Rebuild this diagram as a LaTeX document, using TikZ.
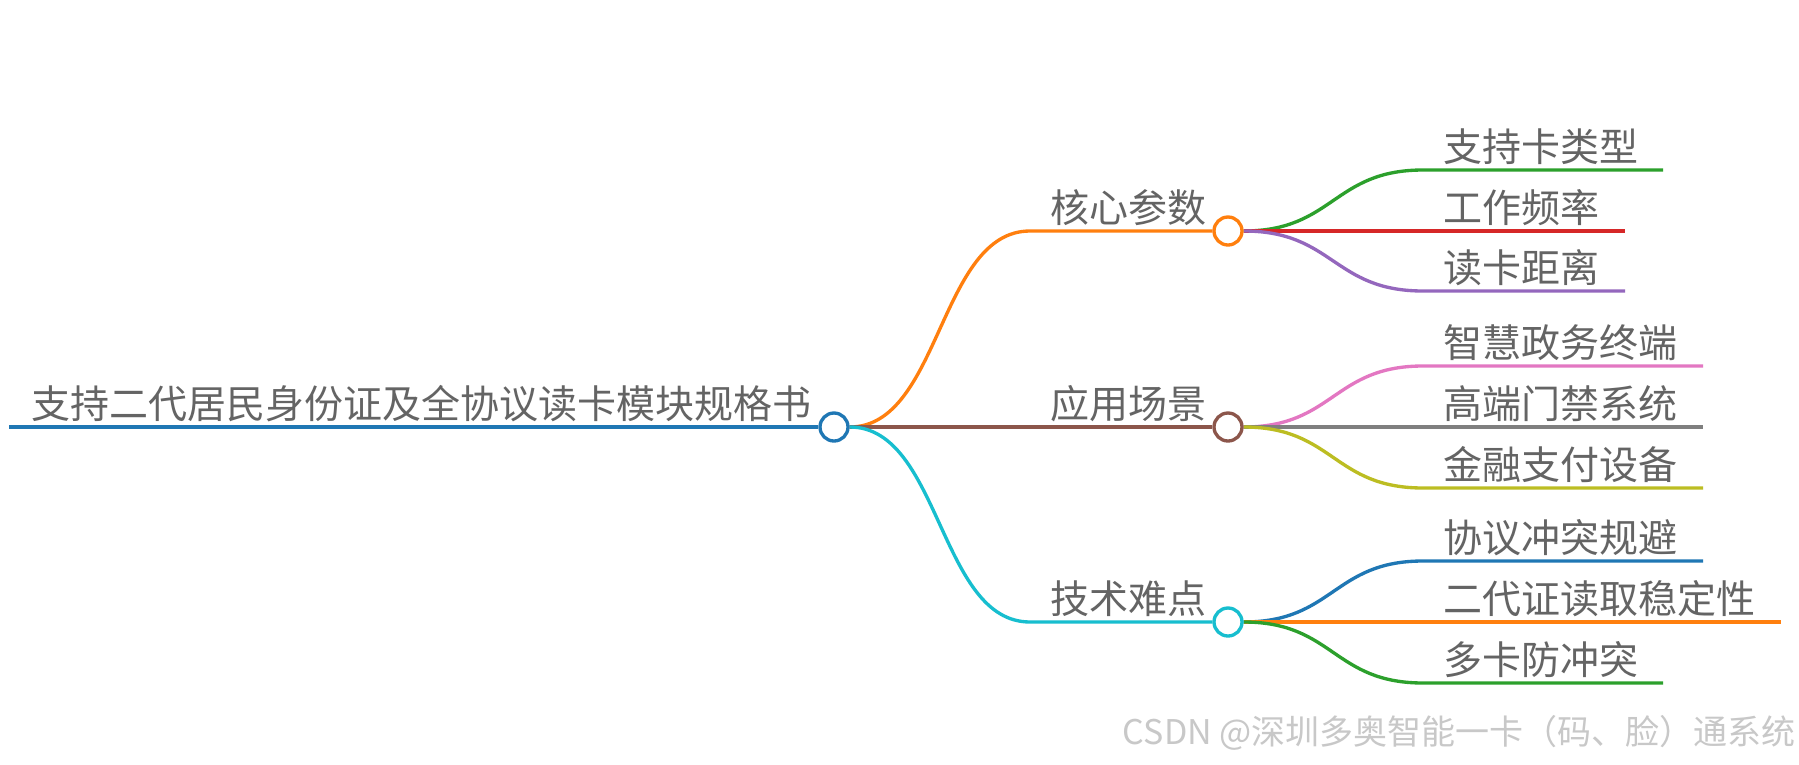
\documentclass[tikz,border=0pt]{standalone}
\usepackage{fontspec}
\setmainfont{Noto Sans CJK SC}
\usetikzlibrary{backgrounds}
\pgfdeclarelayer{paper}
\pgfsetlayers{paper,background,main}
\definecolor{cblue}{HTML}{1F77B4}
\definecolor{corange}{HTML}{FF7F0E}
\definecolor{cgreen}{HTML}{2CA02C}
\definecolor{cred}{HTML}{D62728}
\definecolor{cpurple}{HTML}{9467BD}
\definecolor{cbrown}{HTML}{8C564B}
\definecolor{cpink}{HTML}{E377C2}
\definecolor{cgray}{HTML}{7F7F7F}
\definecolor{colive}{HTML}{BCBD22}
\definecolor{ccyan}{HTML}{17BECF}
\definecolor{txtgray}{HTML}{646464}
\definecolor{wmgray}{HTML}{C8C8C8}
\begin{document}
\begin{tikzpicture}[x=0.75pt,y=-0.75pt,
  lbl/.style={anchor=base west, inner sep=0pt, text=txtgray, font=\fontsize{29.25pt}{31pt}\selectfont},
  knot/.style={circle, draw, fill=white, line width=2.5pt, minimum size=21pt, inner sep=0pt},
  edge/.style={line width=2.5pt}]
\useasboundingbox (0,0) rectangle (1799,764);
\begin{pgfonlayer}{paper}
  \fill[white] (0,0) rectangle (1799,764);
\end{pgfonlayer}

% ---------- root ----------
\coordinate (rS) at (9,427);
\node[lbl] (rt) at (31,418) {支持二代居民身份证及全协议读卡模块规格书};
\node[knot, draw=cblue] (rc) at (834,427) {};

% ---------- level 1 ----------
\coordinate (aS) at (1030,231);
\node[lbl] (at) at (1050,222) {核心参数};
\node[knot, draw=corange] (ac) at (1228,231) {};

\coordinate (bS) at (1030,427);
\node[lbl] (bt) at (1050,418) {应用场景};
\node[knot, draw=cbrown] (bc) at (1228,427) {};

\coordinate (cS) at (1030,622);
\node[lbl] (ct) at (1050,613) {技术难点};
\node[knot, draw=ccyan] (cc) at (1228,622) {};

% ---------- level 2 ----------
\coordinate (a1S) at (1423,170); \coordinate (a1E) at (1663,170);
\node[lbl] (a1t) at (1443,161) {支持卡类型};
\coordinate (a2S) at (1423,231); \coordinate (a2E) at (1625,231);
\node[lbl] (a2t) at (1443,222) {工作频率};
\coordinate (a3S) at (1423,291); \coordinate (a3E) at (1625,291);
\node[lbl] (a3t) at (1443,282) {读卡距离};

\coordinate (b1S) at (1423,366); \coordinate (b1E) at (1703,366);
\node[lbl] (b1t) at (1443,357) {智慧政务终端};
\coordinate (b2S) at (1423,427); \coordinate (b2E) at (1703,427);
\node[lbl] (b2t) at (1443,418) {高端门禁系统};
\coordinate (b3S) at (1423,488); \coordinate (b3E) at (1703,488);
\node[lbl] (b3t) at (1443,479) {金融支付设备};

\coordinate (c1S) at (1423,561); \coordinate (c1E) at (1703,561);
\node[lbl] (c1t) at (1443,552) {协议冲突规避};
\coordinate (c2S) at (1423,622); \coordinate (c2E) at (1781,622);
\node[lbl] (c2t) at (1443,613) {二代证读取稳定性};
\coordinate (c3S) at (1423,683); \coordinate (c3E) at (1663,683);
\node[lbl] (c3t) at (1443,674) {多卡防冲突};

% ---------- watermark ----------
\node[anchor=base east, inner sep=0pt, text=wmgray, font=\fontsize{25.5pt}{27pt}\selectfont] (wm) at (1796,744) {CSDN @深圳多奥智能一卡（码、脸）通系统};

% ---------- lines and links ----------
\begin{scope}[on background layer]
  \draw[edge, cblue] (rS) -- (rc);
  \draw[edge, corange] (rc.east) .. controls +(91,0) and +(-91,0) .. (aS) -- (ac);
  \draw[edge, cbrown] (rc.east) -- (bS) -- (bc);
  \draw[edge, ccyan] (rc.east) .. controls +(91,0) and +(-91,0) .. (cS) -- (cc);

  \draw[edge, cgreen] (ac.east) .. controls +(90,0) and +(-90,0) .. (a1S) -- (a1E);
  \draw[edge, cred] (ac.east) -- (a2S) -- (a2E);
  \draw[edge, cpurple] (ac.east) .. controls +(90,0) and +(-90,0) .. (a3S) -- (a3E);

  \draw[edge, cpink] (bc.east) .. controls +(90,0) and +(-90,0) .. (b1S) -- (b1E);
  \draw[edge, cgray] (bc.east) -- (b2S) -- (b2E);
  \draw[edge, colive] (bc.east) .. controls +(90,0) and +(-90,0) .. (b3S) -- (b3E);

  \draw[edge, cblue] (cc.east) .. controls +(90,0) and +(-90,0) .. (c1S) -- (c1E);
  \draw[edge, corange] (cc.east) -- (c2S) -- (c2E);
  \draw[edge, cgreen] (cc.east) .. controls +(90,0) and +(-90,0) .. (c3S) -- (c3E);
\end{scope}
\end{tikzpicture}
\end{document}
